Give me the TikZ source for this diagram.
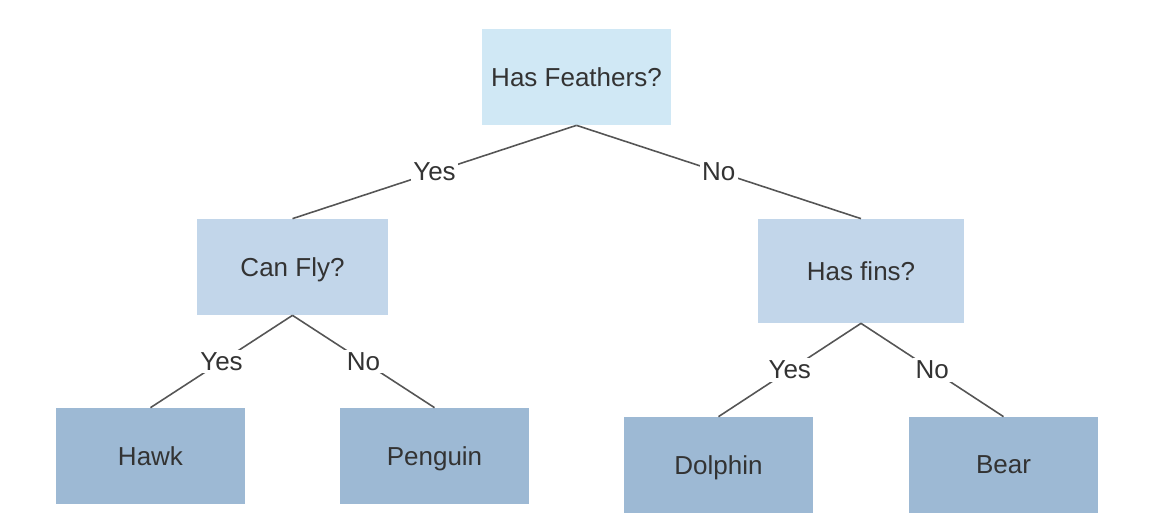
\documentclass[tikz,border=0pt]{standalone}
\usepackage{fontspec}
\setmainfont{Liberation Sans}
\definecolor{rootblue}{HTML}{D0E8F5}
\definecolor{midblue}{HTML}{C2D6EA}
\definecolor{leafblue}{HTML}{9DB9D4}
\definecolor{txtgray}{HTML}{333333}
\definecolor{edgegray}{HTML}{555555}
\tikzset{
	box/.style={rectangle, inner sep=0pt, text depth=0pt, text=txtgray, font=\fontsize{14.8}{17}\selectfont},
	edge/.style={draw=edgegray, line width=0.9pt},
	lbl/.style={fill=white, inner sep=1.5pt, text=txtgray, font=\fontsize{14.8}{17}\selectfont}
}
\begin{document}
\begin{tikzpicture}[x=0.02cm, y=-0.02cm]
	\useasboundingbox (0,0) rectangle (1156,530);
	
	% questions
	\node[box, fill=rootblue, minimum width=189*0.02cm, minimum height=96*0.02cm] (feathers) at (576.5,77) {Has Feathers?};
	\node[box, fill=midblue, minimum width=191*0.02cm, minimum height=96*0.02cm] (fly) at (292.5,267) {Can Fly?};
	\node[box, fill=midblue, minimum width=206*0.02cm, minimum height=104*0.02cm] (fins) at (861,271) {Has fins?};
	
	% animals
	\node[box, fill=leafblue, minimum width=189*0.02cm, minimum height=96*0.02cm] (hawk) at (150.5,456) {Hawk};
	\node[box, fill=leafblue, minimum width=189*0.02cm, minimum height=96*0.02cm] (penguin) at (434.5,456) {Penguin};
	\node[box, fill=leafblue, minimum width=189*0.02cm, minimum height=96*0.02cm] (dolphin) at (718.5,465) {Dolphin};
	\node[box, fill=leafblue, minimum width=189*0.02cm, minimum height=96*0.02cm] (bear) at (1003.5,465) {Bear};
	
	\draw[edge] (feathers.south) -- (fly.north) node[lbl, midway]{Yes};
	\draw[edge] (feathers.south) -- (fins.north) node[lbl, midway]{No};
	\draw[edge] (fly.south) -- (hawk.north) node[lbl, midway]{Yes};
	\draw[edge] (fly.south) -- (penguin.north) node[lbl, midway]{No};
	\draw[edge] (fins.south) -- (dolphin.north) node[lbl, midway]{Yes};
	\draw[edge] (fins.south) -- (bear.north) node[lbl, midway]{No};
\end{tikzpicture}
\end{document}
